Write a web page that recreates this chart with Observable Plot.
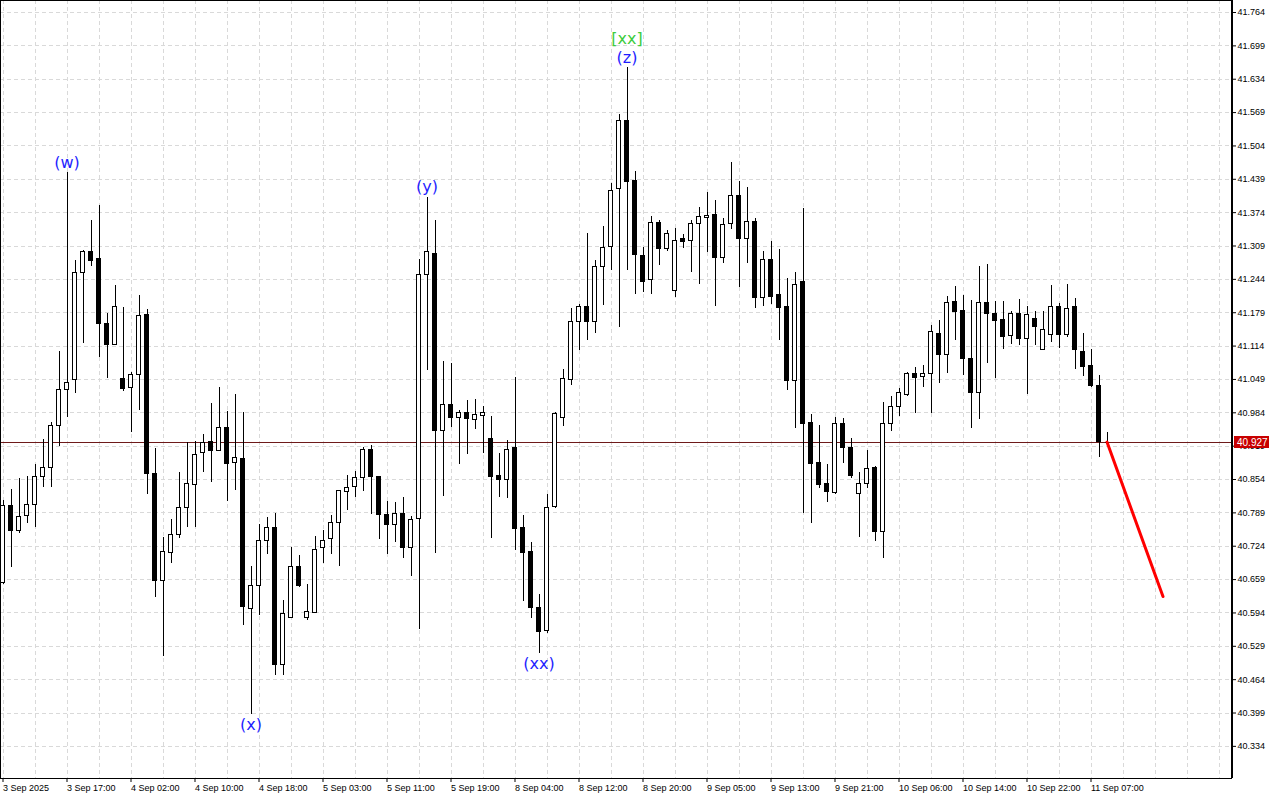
<!DOCTYPE html>
<html><head><meta charset="utf-8">
<script src="https://cdn.jsdelivr.net/npm/d3@7"></script>
<script src="https://cdn.jsdelivr.net/npm/@observablehq/plot@0.6"></script>
<style>
html,body{margin:0;padding:0;background:#fff;}
#chart{width:1280px;height:800px;}
</style></head><body><div id="chart"></div>
<script>
// ---- Data (H1 candles, index = bar number) ----
const opens = [40.653,40.803,40.753,40.782,40.805,40.858,40.877,40.959,41.029,41.047,
41.257,41.298,41.283,41.158,41.117,41.049,41.033,41.057,41.174,40.864,
40.657,40.710,40.745,40.799,40.844,40.905,40.928,40.910,40.955,40.887,
40.893,40.601,40.646,40.735,40.760,40.492,40.585,40.684,40.585,40.593,
40.720,40.739,40.770,40.829,40.839,40.856,40.912,40.858,40.784,40.766,
40.786,40.720,40.778,41.252,41.294,40.948,41.000,40.973,40.984,40.969,
40.977,40.932,40.860,40.854,40.916,40.759,40.712,40.603,40.558,40.801,
40.973,41.047,41.160,41.191,41.160,41.269,41.308,41.421,41.552,41.435,
41.290,41.242,41.353,41.304,41.222,41.322,41.318,41.351,41.363,41.370,
41.285,41.351,41.407,41.322,41.355,41.207,41.281,41.214,41.191,41.045,
41.238,40.965,40.887,40.846,40.827,40.963,40.916,40.825,40.846,40.877,
40.751,40.963,40.996,41.018,41.059,41.053,41.059,41.138,41.096,41.199,
41.183,41.088,41.022,41.197,41.177,41.164,41.133,41.177,41.127,41.166,
41.107,41.136,41.191,41.136,41.191,41.103,41.076,41.037,40.927];
const highs = [40.813,40.835,40.856,40.860,40.883,40.932,40.965,41.103,41.452,41.281,
41.300,41.359,41.388,41.177,41.232,41.189,41.063,41.213,41.185,40.914,
40.741,40.776,40.868,40.926,40.928,40.942,41.002,41.033,40.986,41.020,
40.984,40.684,40.766,40.780,40.788,40.618,40.722,40.706,40.649,40.743,
40.755,40.784,40.833,40.862,40.870,40.916,40.920,40.858,40.811,40.809,
40.819,40.782,41.283,41.404,41.359,41.084,41.080,40.989,41.008,41.010,
40.996,40.977,40.905,40.930,41.053,40.784,40.731,40.630,40.825,40.984,
41.068,41.187,41.195,41.333,41.281,41.347,41.431,41.565,41.657,41.454,
41.306,41.366,41.359,41.339,41.343,41.331,41.359,41.384,41.413,41.398,
41.363,41.472,41.435,41.423,41.363,41.298,41.318,41.302,41.246,41.257,
41.382,40.981,40.959,40.883,40.975,40.973,40.934,40.868,40.910,40.879,
41.004,41.016,41.031,41.063,41.072,41.076,41.154,41.164,41.211,41.230,
41.213,41.203,41.269,41.273,41.201,41.201,41.181,41.205,41.191,41.181,
41.181,41.232,41.197,41.234,41.207,41.138,41.107,41.057,40.946];
const lows = [40.649,40.682,40.749,40.768,40.760,40.839,40.839,40.918,40.975,41.022,
41.119,41.269,41.092,41.051,41.117,41.026,40.946,40.989,40.825,40.624,
40.509,40.690,40.739,40.760,40.760,40.868,40.848,40.910,40.811,40.833,
40.570,40.396,40.589,40.708,40.472,40.472,40.583,40.644,40.579,40.593,
40.690,40.708,40.684,40.794,40.819,40.831,40.786,40.737,40.708,40.731,
40.700,40.665,40.562,41.066,40.710,40.821,40.955,40.883,40.903,40.951,
40.905,40.739,40.819,40.817,40.716,40.616,40.583,40.515,40.554,40.797,
40.957,41.037,41.105,41.125,41.138,41.193,41.261,41.150,41.261,41.214,
41.218,41.214,41.271,41.298,41.209,41.304,41.257,41.234,41.296,41.191,
41.275,41.341,41.228,41.275,41.187,41.191,41.195,41.125,41.027,40.953,
40.788,40.768,40.837,40.809,40.825,40.885,40.856,40.741,40.837,40.733,
40.700,40.948,40.977,41.016,40.983,41.033,40.983,41.041,41.061,41.125,
41.057,40.953,40.971,41.080,41.051,41.107,41.117,41.115,41.020,41.115,
41.107,41.121,41.109,41.131,41.068,41.055,41.033,40.897,40.926];
const closes = [40.803,40.753,40.780,40.805,40.858,40.877,40.959,41.029,41.043,41.257,
41.298,41.279,41.158,41.117,41.191,41.031,41.057,41.172,40.864,40.657,
40.712,40.745,40.799,40.846,40.901,40.926,40.910,40.955,40.885,40.895,
40.605,40.646,40.735,40.760,40.492,40.591,40.684,40.646,40.595,40.716,
40.735,40.770,40.831,40.837,40.856,40.912,40.858,40.784,40.766,40.786,
40.720,40.776,41.252,41.298,40.948,41.000,40.973,40.984,40.971,40.979,
40.984,40.858,40.854,40.912,40.757,40.710,40.603,40.556,40.799,40.981,
41.049,41.160,41.191,41.160,41.269,41.306,41.417,41.552,41.433,41.292,
41.238,41.353,41.304,41.333,41.318,41.316,41.351,41.365,41.368,41.285,
41.349,41.407,41.322,41.355,41.207,41.281,41.209,41.189,41.045,41.234,
40.963,40.885,40.844,40.829,40.963,40.916,40.860,40.846,40.875,40.751,
40.963,40.996,41.022,41.059,41.051,41.059,41.142,41.096,41.197,41.181,
41.088,41.022,41.197,41.177,41.162,41.131,41.177,41.127,41.174,41.152,
41.146,41.191,41.136,41.187,41.107,41.074,41.037,40.927,40.927];

const timeLabels = ["3 Sep 2025","3 Sep 17:00","4 Sep 02:00","4 Sep 10:00","4 Sep 18:00",
"5 Sep 03:00","5 Sep 11:00","5 Sep 19:00","8 Sep 04:00","8 Sep 12:00","8 Sep 20:00",
"9 Sep 05:00","9 Sep 13:00","9 Sep 21:00","10 Sep 06:00","10 Sep 14:00","10 Sep 22:00","11 Sep 07:00"];
const priceTicks = [40.334,40.399,40.464,40.529,40.594,40.659,40.724,40.789,40.854,40.919,
40.984,41.049,41.114,41.179,41.244,41.309,41.374,41.439,41.504,41.569,41.634,41.699,41.764];

const waveText = ["(w)","(x)","(y)","(xx)","(z)","[xx]"];
const waveBar = [8,31,53,67,78,78];
const waveSide = ["top","bottom","top","bottom","top","top2"];
const waveColor = ["#1f1fff","#1f1fff","#1f1fff","#1f1fff","#1f1fff","#3ccc3c"];

const forecastBar = [138,145];
const forecastPrice = [40.927,40.626];
const lastPrice = 40.927;

// ---- build tables ----
const candles = opens.map((o,i)=>({i, o, h: highs[i], l: lows[i], c: closes[i]}));
const up = candles.filter(d => d.c > d.o);
const down = candles.filter(d => d.c < d.o);
const doji = candles.filter(d => d.c === d.o);
const waves = waveText.map((t,k)=>({t, i: waveBar[k], side: waveSide[k], color: waveColor[k],
  p: waveSide[k] === "bottom" ? lows[waveBar[k]] : highs[waveBar[k]]}));
const forecast = forecastBar.map((b,k)=>({i: b, p: forecastPrice[k]}));
const labelBars = timeLabels.map((_,k)=>k*8);
const half = 0.25;

const FONT = "Liberation Sans, Arial, sans-serif";
const crisp = {shapeRendering: "crispEdges"};

const priceBox = (index, scales, values, dims) => {
  const y = Math.round(scales.y(lastPrice));
  const x0 = dims.width - dims.marginRight + 3;
  const g = d3.create("svg:g");
  g.append("rect").attr("x", x0).attr("y", y - 6).attr("width", 35).attr("height", 12)
    .attr("fill", "#c80000").attr("shape-rendering", "crispEdges");
  g.append("text").attr("x", x0 + 3).attr("y", y).attr("dy", "0.35em")
    .attr("text-anchor", "start").attr("fill", "white").attr("font-size", 10)
    .attr("font-family", FONT).text(lastPrice.toFixed(3));
  return g.node();
};

const chart = Plot.plot({
  width: 1280, height: 800,
  marginLeft: 0, marginRight: 49, marginTop: 0, marginBottom: 22,
  style: {fontFamily: FONT, fontSize: "9px", background: "white", overflow: "visible"},
  x: {domain: [-0.3125, 153.5625], axis: null, label: null},
  y: {domain: [40.2714, 41.7874], axis: null, label: null},
  marks: [
    Plot.ruleY(priceTicks, {stroke: "#d9d9d9", strokeDasharray: "4,3", ...crisp}),
    Plot.ruleX(d3.range(0, 154, 4), {stroke: "#d9d9d9", strokeDasharray: "4,3", ...crisp}),
    Plot.ruleY([lastPrice], {stroke: "#6e1a1a", ...crisp}),
    Plot.ruleX(candles, {x: "i", y1: "l", y2: "h", stroke: "black", ...crisp}),
    Plot.rect(up, {x1: d => d.i - half, x2: d => d.i + half, y1: "o", y2: "c", fill: "white", stroke: "black", strokeWidth: 1, ...crisp}),
    Plot.rect(down, {x1: d => d.i - half, x2: d => d.i + half, y1: "o", y2: "c", fill: "black", stroke: "black", strokeWidth: 1, ...crisp}),
    Plot.ruleY(doji, {y: "c", x1: d => d.i - half, x2: d => d.i + half, stroke: "black", ...crisp}),
    Plot.line(forecast, {x: "i", y: "p", stroke: "#ff0000", strokeWidth: 3}),
    Plot.text(waves.filter(d => d.side === "top"), {x: "i", y: "p", text: "t", fill: "color", dy: -10, fontSize: 16, fontFamily: "DejaVu Sans"}),
    Plot.text(waves.filter(d => d.side === "bottom"), {x: "i", y: "p", text: "t", fill: "color", dy: 10, fontSize: 16, fontFamily: "DejaVu Sans"}),
    Plot.text(waves.filter(d => d.side === "top2"), {x: "i", y: "p", text: "t", fill: "color", dy: -29, fontSize: 16, fontFamily: "DejaVu Sans"}),
    Plot.axisY({ticks: priceTicks, anchor: "right", label: null, tickSize: 4, tickPadding: 2, tickFormat: d => d.toFixed(3), fontSize: 9}),
    Plot.axisX({ticks: labelBars, anchor: "bottom", label: null, tickSize: 4, tickPadding: 2, textAnchor: "start", tickFormat: i => timeLabels[i / 8], fontSize: 9}),
    Plot.frame({stroke: "black", ...crisp}),
    Plot.ruleX([153.5625], {stroke: "black", strokeWidth: 2, ...crisp}),
    priceBox
  ]
});
document.getElementById("chart").appendChild(chart);
</script>
</body></html>
